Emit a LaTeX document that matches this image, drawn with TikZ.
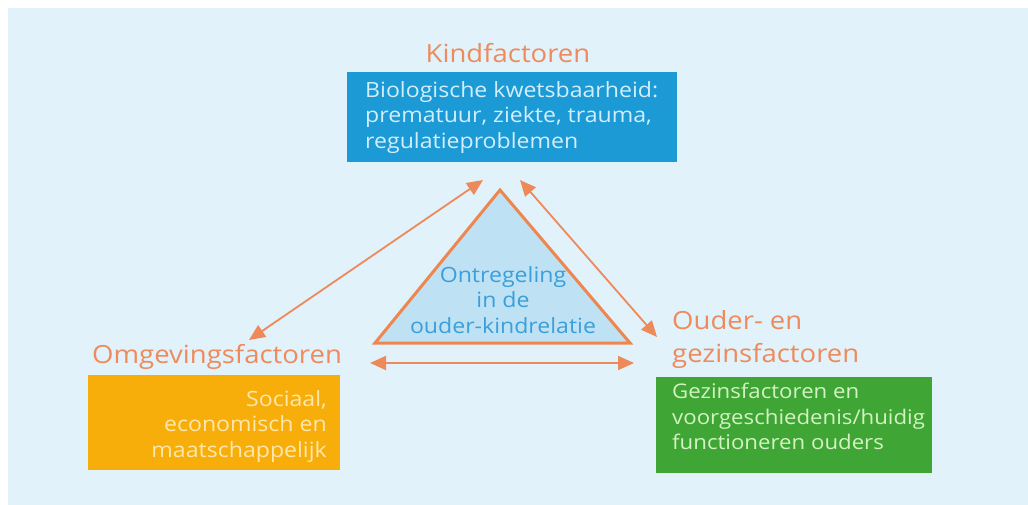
\documentclass[tikz,border=0pt]{standalone}
\usepackage{fontspec}
\setmainfont{Open Sans}[FakeStretch=1.1]
\usetikzlibrary{arrows.meta}
\definecolor{bg}{HTML}{E1F2FA}
\definecolor{ttl}{HTML}{EF8A5C}
\definecolor{bluebox}{HTML}{1B9AD6}
\definecolor{bluetxt}{HTML}{D2EEFA}
\definecolor{orabox}{HTML}{F8AE0A}
\definecolor{oratxt}{HTML}{FDE7AA}
\definecolor{grnbox}{HTML}{3FA535}
\definecolor{grntxt}{HTML}{D3F3C2}
\definecolor{trifill}{HTML}{BEE2F4}
\definecolor{tristroke}{HTML}{EE8650}
\definecolor{tritxt}{HTML}{3A9FDA}
\definecolor{arrc}{HTML}{EE8A5A}
\tikzset{
  title/.style={text=ttl, inner sep=0pt, font=\fontsize{25}{33}\selectfont},
  boxtxt/.style={inner sep=0pt, font=\fontsize{21}{25.5}\selectfont},
  colbox/.style={draw=none, inner sep=0pt, anchor=north west},
  arr/.style={draw=arrc, line width=1.8pt, {Triangle[length=16pt,width=14pt]}-{Triangle[length=16pt,width=14pt]}}
}
\begin{document}
\begin{tikzpicture}[x=1pt,y=-1pt]
\useasboundingbox (0,0) rectangle (1028,504);
\fill[white] (0,0) rectangle (1028,504);
\fill[bg] (8,8) rectangle (1029,505);

% boxes
\node[colbox, fill=bluebox, minimum width=330pt, minimum height=90pt] (kbox) at (347,72) {};
\node[colbox, fill=orabox, minimum width=252pt, minimum height=95pt] (obox) at (88,375) {};
\node[colbox, fill=grnbox, minimum width=276pt, minimum height=96pt] (gbox) at (656,377) {};

% titles
\node[title, anchor=base] (ktitle) at (508,62) {Kindfactoren};
\node[title, anchor=base west] (otitle) at (92,363) {Omgevingsfactoren};
\node[title, anchor=north west, align=left] (gtitle) at (672,310) {Ouder- en\\gezinsfactoren};

% box texts
\node[boxtxt, text=bluetxt, anchor=north west, align=left] (ktxt) at (365,81)
  {Biologische kwetsbaarheid:\\prematuur, ziekte, trauma,\\regulatieproblemen};
\node[boxtxt, text=oratxt, anchor=north east, align=right] (otxt) at (327,390)
  {Sociaal,\\economisch en\\maatschappelijk};
\node[boxtxt, text=grntxt, anchor=north west, align=left, font=\fontsize{20.2}{25.5}\selectfont] (gtxt) at (672,383)
  {Gezinsfactoren en\\voorgeschiedenis/huidig\\functioneren ouders};

% triangle
\coordinate (apex) at (500,190);
\coordinate (bl) at (375,343);
\coordinate (br) at (630,343);
\draw[fill=trifill, draw=tristroke, line width=3pt, line join=miter] (apex) -- (bl) -- (br) -- cycle;
\node[boxtxt, text=tritxt, anchor=north, align=center] (ttxt) at (503,266)
  {Ontregeling\\in de\\ouder-kindrelatie};

% arrows
\coordinate (a1) at (483,180);
\coordinate (a2) at (249,340);
\coordinate (b1) at (520,180);
\coordinate (b2) at (657,337);
\coordinate (c1) at (370,363);
\coordinate (c2) at (634,363);
\draw[arr] (a1) -- (a2);
\draw[arr] (b1) -- (b2);
\draw[arr] (c1) -- (c2);
\end{tikzpicture}
\end{document}
